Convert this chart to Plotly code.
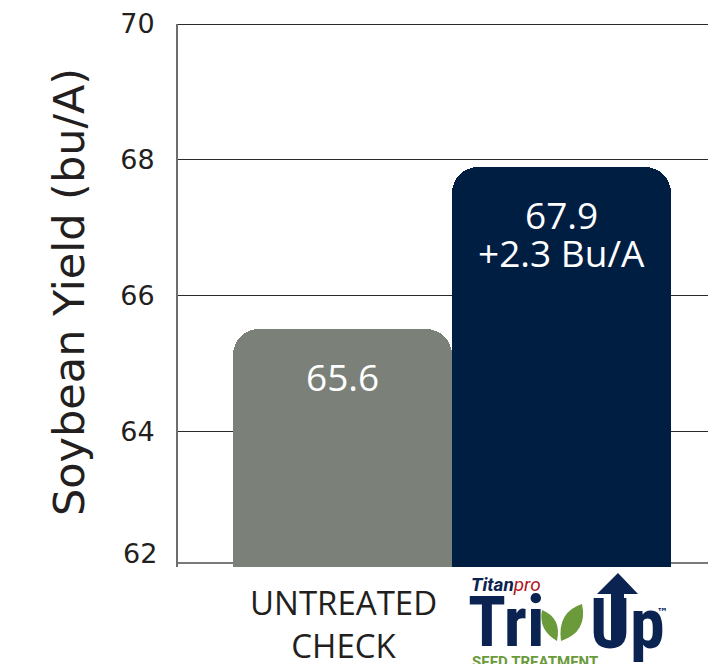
import plotly.graph_objects as go

categories = ["UNTREATED<br>CHECK", "TITAN PRO TRI-UP"]
yields = [65.5, 67.9]
bar_labels = ["65.6", "67.9<br>+2.3 Bu/A"]
bar_colors = ["#7B8179", "#001E42"]
y_ticks = [64, 66, 68, 70]
y_min, y_max = 62, 70

OFF = 8  # page body margin
W, H = 708, 656
L, T = 170, 16
R = 0
B = H - (567 - OFF)
pw, ph = W - L - R, H - T - B

def px(x):  # page x -> paper
    return (x - OFF - L) / pw

def py(y):  # page y -> paper
    return ((567 - OFF) - (y - OFF)) / ph

fig = go.Figure()
fig.add_trace(go.Bar(
    x=[0, 1], y=yields, width=1.0,
    marker=dict(color=bar_colors, line=dict(width=0), cornerradius=26),
    hoverinfo="skip",
))

for i, (v, lab) in enumerate(zip(yields, bar_labels)):
    for k, line in enumerate(lab.split("<br>")):
        fig.add_annotation(x=i, y=v, xref="x", yref="y", text=line, showarrow=False,
                           yanchor="top", yshift=-20 - 38 * k,
                           font=dict(family="Open Sans", size=37, color="white"))

fig.update_layout(
    width=W, height=H, margin=dict(l=L, r=R, t=T, b=B, autoexpand=False),
    paper_bgcolor="white", plot_bgcolor="white", showlegend=False,
    bargap=0,
    xaxis=dict(range=[-0.75, 1.705], showticklabels=False,
               showgrid=False, zeroline=False, showline=False, ticks=""),
    yaxis=dict(range=[y_min, y_max], tickvals=y_ticks, showgrid=True,
               gridcolor="#2a2a2a", gridwidth=1.3, zeroline=False,
               showline=True, linecolor="#6d6d6d", linewidth=2, ticks="",
               ticklabelstandoff=16,
               tickfont=dict(family="DejaVu Sans", size=27, color="#231F20")),
)

# bottom tick label (sits slightly above the baseline in the reference)
fig.add_annotation(xref="paper", yref="paper", x=px(159), y=py(553), xanchor="right",
                   yanchor="middle", text=str(y_min), showarrow=False,
                   font=dict(family="DejaVu Sans", size=27, color="#231F20"))

# axis title
fig.add_annotation(xref="paper", yref="paper", x=px(42), y=py(292),
                   text="Soybean Yield (bu/A)", showarrow=False, textangle=-90,
                   font=dict(family="DejaVu Sans", size=43, color="#231F20"))

# category label
fig.add_annotation(xref="paper", yref="paper", x=px(343), y=py(624), xanchor="center",
                   yanchor="middle", text=categories[0], showarrow=False,
                   font=dict(family="Open Sans", size=33, color="#231F20"))

# baseline and top border
fig.add_shape(type="line", xref="paper", yref="paper", x0=0, x1=1, y0=py(563), y1=py(563),
              line=dict(color="#7a7a7a", width=2), layer="below")
fig.add_shape(type="line", xref="paper", yref="y", x0=0, x1=1, y0=y_max, y1=y_max,
              line=dict(color="#2a2a2a", width=2))

# logo (approximation)
navy = "#0B2350"
green = "#6A9A3A"

def P(x, y):
    return f"{px(x):.5f},{py(y):.5f}"

arrow = (f"M {P(618,573)} L {P(638,594)} L {P(624,594)} L {P(624,640)} "
         f"L {P(611,640)} L {P(611,594)} L {P(597,594)} Z")
fig.add_shape(type="path", xref="paper", yref="paper", path=arrow,
              fillcolor=navy, line=dict(width=0))
leaf1 = f"M {P(557,641)} Q {P(538,630)} {P(542,610)} Q {P(562,618)} {P(557,641)} Z"
leaf2 = f"M {P(561,641)} Q {P(557,612)} {P(582,604)} Q {P(588,632)} {P(561,641)} Z"
fig.add_shape(type="path", xref="paper", yref="paper", path=leaf1, fillcolor=green, line=dict(width=0))
fig.add_shape(type="path", xref="paper", yref="paper", path=leaf2, fillcolor=green, line=dict(width=0))

fig.add_annotation(xref="paper", yref="paper", x=px(469), y=py(584), xanchor="left", yanchor="middle",
                   text="<b><i>Titan</i></b><span style='color:#B0161E'><i>pro</i></span>",
                   showarrow=False, font=dict(family="Roboto", size=19, color=navy))
fig.add_annotation(xref="paper", yref="paper", x=px(466), y=py(622), xanchor="left", yanchor="middle",
                   text="<b>Tri</b>", showarrow=False,
                   font=dict(family="Roboto Condensed, Liberation Sans Narrow, Roboto", size=70, color=navy))
fig.add_annotation(xref="paper", yref="paper", x=px(588), y=py(624), xanchor="left", yanchor="middle",
                   text="<b>Up</b>", showarrow=False,
                   font=dict(family="Roboto Condensed, Liberation Sans Narrow, Roboto", size=70, color=navy))
fig.add_annotation(xref="paper", yref="paper", x=px(655), y=py(612), xanchor="left", yanchor="middle",
                   text="<b>™</b>", showarrow=False, font=dict(family="DejaVu Sans", size=11, color=navy))
fig.add_annotation(xref="paper", yref="paper", x=px(470), y=py(662), xanchor="left", yanchor="middle",
                   text="<b>SEED TREATMENT</b>", showarrow=False,
                   font=dict(family="Roboto", size=15, color=green))

fig.write_html("out.html")
